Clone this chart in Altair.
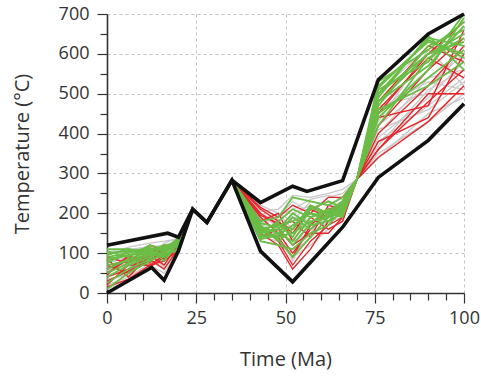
import altair as alt
import pandas as pd

# Time nodes (Ma) shared by all modelled t-T paths
NODE_T = [0, 6, 12, 16, 20, 24, 28, 35, 43, 48, 52, 57, 62, 66, 70, 76, 90, 100]

GRAY_PATHS = [
    [100, 110, 115, 120, 130, 210, 177, 283, 200, 180, 150, 190, 210, 230, 285, 480, 600, 650],
    [60, 70, 90, 80, 120, 210, 177, 283, 180, 160, 120, 170, 200, 220, 285, 420, 520, 600],
    [30, 50, 80, 60, 110, 210, 177, 283, 150, 140, 200, 220, 180, 200, 285, 380, 470, 540],
    [90, 80, 100, 110, 125, 210, 177, 283, 210, 190, 230, 200, 240, 250, 285, 450, 560, 690],
    [20, 40, 75, 90, 115, 210, 177, 283, 130, 120, 100, 140, 180, 190, 285, 350, 430, 500],
    [110, 100, 120, 95, 135, 210, 177, 283, 170, 200, 180, 230, 220, 240, 285, 500, 620, 600],
    [75, 90, 85, 100, 105, 210, 177, 283, 190, 150, 170, 160, 190, 210, 285, 400, 540, 560],
    [45, 60, 110, 70, 128, 210, 177, 283, 160, 170, 140, 210, 230, 200, 285, 470, 500, 620],
    [10, 30, 70, 50, 108, 210, 177, 283, 140, 130, 90, 120, 160, 180, 285, 340, 450, 490],
    [100, 105, 95, 125, 138, 210, 177, 283, 205, 210, 245, 240, 250, 260, 285, 510, 580, 670],
    [55, 85, 105, 115, 120, 210, 177, 283, 175, 145, 190, 180, 170, 230, 285, 430, 610, 520],
    [85, 65, 90, 85, 118, 210, 177, 283, 185, 185, 130, 150, 215, 190, 285, 390, 490, 580],
    [65, 75, 100, 105, 126, 210, 177, 283, 165, 195, 210, 235, 245, 235, 285, 410, 460, 530],
    [35, 45, 95, 65, 112, 210, 177, 283, 195, 165, 80, 170, 200, 215, 285, 370, 510, 560],
    [95, 115, 125, 130, 136, 210, 177, 283, 220, 200, 160, 200, 190, 205, 285, 460, 530, 510],
]

RED_PATHS = [
    [40, 60, 80, 110, 125, 210, 177, 283, 190, 150, 100, 160, 200, 220, 285, 360, 480, 560],
    [20, 70, 70, 95, 110, 210, 177, 283, 170, 130, 70, 130, 170, 190, 285, 400, 520, 620],
    [70, 50, 100, 85, 130, 210, 177, 283, 210, 180, 150, 210, 190, 230, 285, 450, 600, 680],
    [50, 85, 75, 120, 118, 210, 177, 283, 150, 120, 60, 110, 180, 200, 285, 340, 430, 520],
    [85, 40, 95, 70, 122, 210, 177, 283, 200, 170, 180, 140, 220, 210, 285, 420, 560, 640],
    [30, 55, 110, 100, 132, 210, 177, 283, 180, 200, 130, 190, 160, 180, 285, 380, 440, 600],
    [60, 90, 85, 60, 112, 210, 177, 283, 215, 190, 220, 200, 240, 240, 285, 480, 620, 580],
    [15, 35, 70, 80, 108, 210, 177, 283, 160, 140, 90, 170, 210, 220, 285, 360, 500, 500],
    [90, 75, 120, 105, 128, 210, 177, 283, 140, 160, 120, 150, 150, 190, 285, 440, 470, 660],
    [45, 95, 65, 90, 115, 210, 177, 283, 195, 175, 160, 220, 200, 230, 285, 460, 590, 540],
]

GREEN_PATHS = [
    [100, 105, 110, 115, 130, 210, 177, 283, 160, 170, 180, 200, 190, 210, 285, 480, 600, 650],
    [80, 95, 100, 90, 125, 210, 177, 283, 140, 150, 130, 190, 210, 200, 285, 520, 630, 600],
    [60, 85, 105, 120, 120, 210, 177, 283, 150, 160, 200, 170, 180, 220, 285, 440, 560, 690],
    [110, 110, 95, 100, 135, 210, 177, 283, 170, 130, 160, 220, 200, 190, 285, 500, 640, 620],
    [40, 70, 90, 105, 118, 210, 177, 283, 130, 120, 110, 150, 170, 210, 285, 460, 520, 580],
    [90, 100, 115, 80, 128, 210, 177, 283, 180, 190, 240, 230, 220, 240, 285, 530, 610, 680],
    [25, 60, 85, 95, 112, 210, 177, 283, 145, 140, 150, 180, 190, 205, 285, 420, 590, 640],
    [105, 90, 120, 110, 138, 210, 177, 283, 155, 175, 140, 210, 230, 215, 285, 490, 645, 560],
    [70, 80, 100, 110, 122, 210, 177, 283, 165, 150, 190, 160, 200, 225, 285, 510, 580, 700],
    [95, 110, 100, 100, 130, 210, 177, 283, 135, 145, 170, 200, 180, 200, 285, 470, 620, 660],
    [50, 75, 95, 115, 115, 210, 177, 283, 175, 165, 120, 175, 210, 195, 285, 450, 540, 610],
    [85, 95, 108, 90, 125, 210, 177, 283, 150, 180, 210, 190, 205, 230, 285, 500, 600, 630],
    [10, 50, 80, 100, 105, 210, 177, 283, 160, 135, 90, 140, 190, 215, 285, 480, 570, 670],
    [75, 105, 112, 105, 132, 210, 177, 283, 140, 170, 160, 215, 195, 220, 285, 515, 635, 590],
]

# Envelope (black bounding paths)
UPPER_T = [0, 17, 20, 24, 28, 35, 43, 52, 56, 66, 76, 90, 100]
UPPER_V = [120, 150, 140, 210, 177, 283, 227, 268, 255, 282, 535, 650, 700]
LOWER_T = [0, 12.5, 16, 20, 24, 28, 35, 43, 52, 66, 76, 90, 100]
LOWER_V = [0, 64, 32, 105, 210, 177, 283, 105, 28, 165, 290, 383, 475]


def paths_df(paths, prefix):
    rows = []
    for i, p in enumerate(paths):
        for t, v in zip(NODE_T, p):
            rows.append({"path": f"{prefix}{i}", "t": t, "T": v})
    return pd.DataFrame(rows)


env_rows = [{"path": "upper", "t": t, "T": v} for t, v in zip(UPPER_T, UPPER_V)]
env_rows += [{"path": "lower", "t": t, "T": v} for t, v in zip(LOWER_T, LOWER_V)]
env_df = pd.DataFrame(env_rows)

FONT = "Open Sans"
major_x = "datum.value % 25 == 0"
major_y = "datum.value % 100 == 0"

x_enc = alt.X(
    "t:Q",
    scale=alt.Scale(domain=[0, 100], nice=False),
    axis=alt.Axis(
        title="Time (Ma)",
        values=list(range(0, 101, 5)),
        labelExpr=f"{major_x} ? datum.label : ''",
        tickSize={"condition": {"test": major_x, "value": 10}, "value": 7},
        gridOpacity={"condition": {"test": major_x, "value": 1}, "value": 0},
        labelFlush=False,
        labelOverlap=False,
        labelPadding=6,
        titlePadding=22,
    ),
)
y_enc = alt.Y(
    "T:Q",
    scale=alt.Scale(domain=[0, 700], nice=False),
    axis=alt.Axis(
        title="Temperature (°C)",
        values=list(range(0, 701, 50)),
        labelExpr=f"{major_y} ? datum.label : ''",
        tickSize={"condition": {"test": major_y, "value": 10}, "value": 7},
        gridOpacity={"condition": {"test": major_y, "value": 1}, "value": 0},
        labelOverlap=False,
        labelPadding=8,
        titlePadding=26,
    ),
)

def layer(df, color, width):
    return alt.Chart(df).mark_line(color=color, strokeWidth=width, strokeJoin="miter").encode(
        x=x_enc, y=y_enc, detail="path:N"
    )

chart = alt.layer(
    layer(paths_df(GRAY_PATHS, "g"), "#c8c8c8", 1.3),
    layer(paths_df(RED_PATHS, "r"), "#e4262b", 1.4),
    layer(paths_df(GREEN_PATHS, "G"), "#6abd45", 1.8),
    layer(env_df, "#111111", 3.6),
).properties(
    width=357,
    height=279,
    autosize=alt.AutoSizeParams(type="none"),
    padding={"left": 107, "top": 14, "right": 17, "bottom": 83},
    background="white",
).configure_view(stroke=None).configure_axis(
    labelFont=FONT,
    titleFont=FONT,
    labelFontSize=18,
    titleFontSize=20,
    titleFontWeight="normal",
    labelColor="#333333",
    titleColor="#333333",
    domainColor="#333333",
    domainWidth=1.6,
    tickColor="#333333",
    tickWidth=1.2,
    gridColor="#b5b5b5",
    gridDash=[3, 3],
    gridWidth=0.8,
)

chart.save("out.html", embed_options={"renderer": "svg", "actions": False})
